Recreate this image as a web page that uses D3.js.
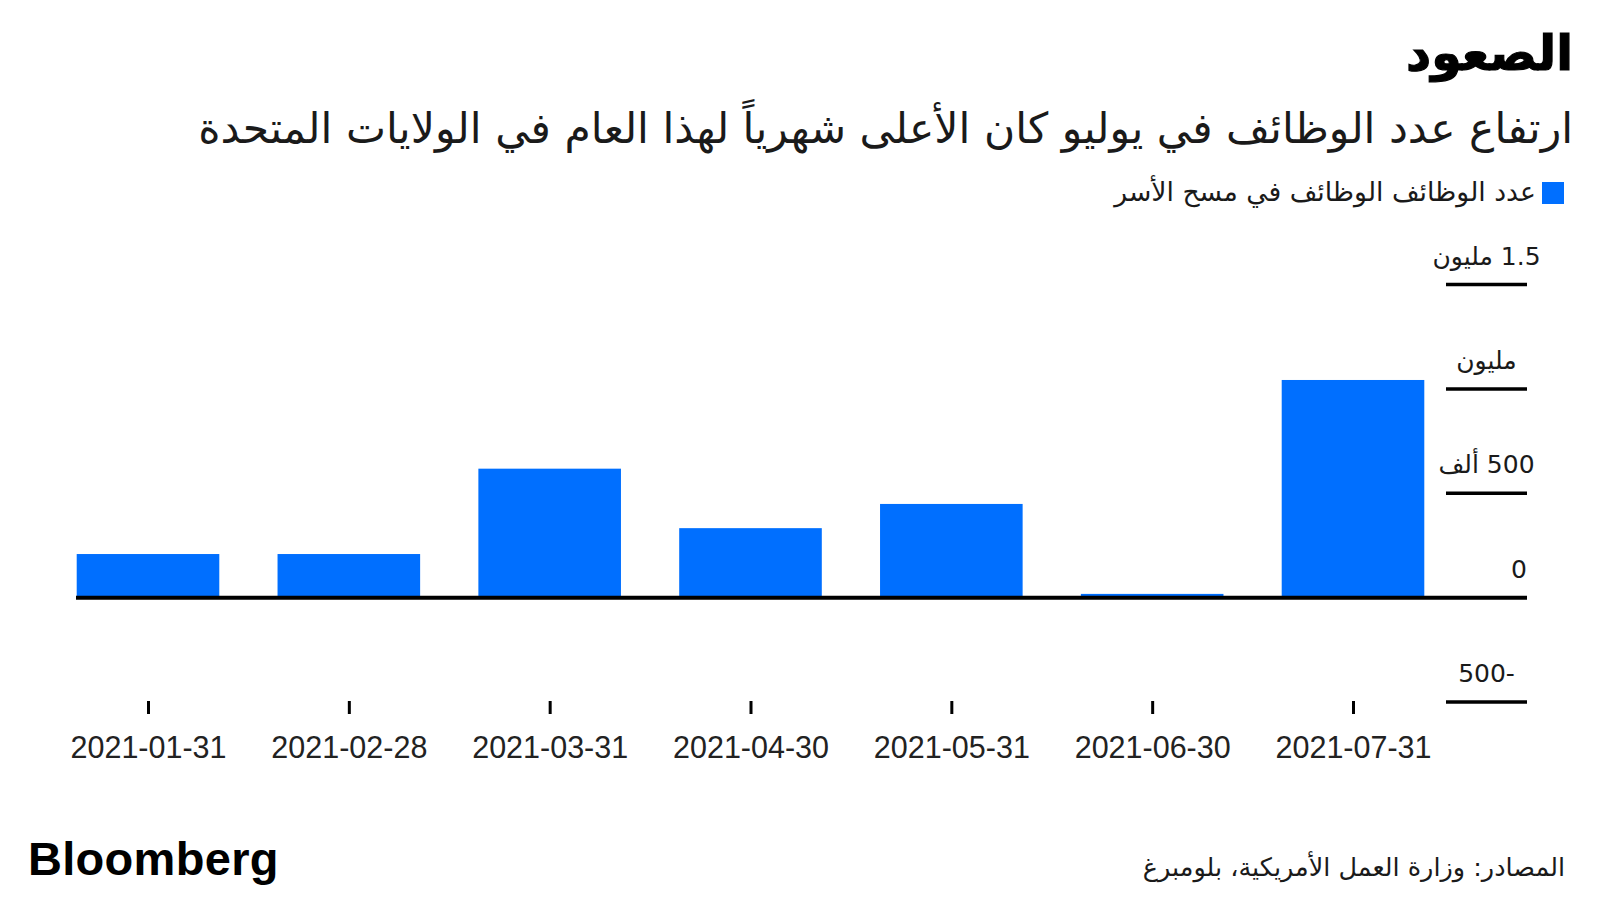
<!DOCTYPE html>
<html>
<head>
<meta charset="utf-8">
<script src="https://cdn.jsdelivr.net/npm/d3@7"></script>
<style>
  html, body { margin: 0; padding: 0; background: #fff; }
  svg { display: block; }
</style>
</head>
<body>
<svg id="chart" width="1600" height="900"></svg>
<script>
// ---- data ----
const categories = ["2021-01-31", "2021-02-28", "2021-03-31", "2021-04-30", "2021-05-31", "2021-06-30", "2021-07-31"];
const jobsValues = [209000, 209000, 618000, 333000, 449000, 18000, 1043000];
const yTickValues = [-500000, 0, 500000, 1000000, 1500000];
const yTickLabels = ["-500", "0", "500 ألف", "مليون", "1.5 مليون"];
const titleText = "الصعود";
const subtitleText = "ارتفاع عدد الوظائف في يوليو كان الأعلى شهرياً لهذا العام في الولايات المتحدة";
const legendText = "عدد الوظائف الوظائف في مسح الأسر";
const sourceText = "المصادر: وزارة العمل الأمريكية، بلومبرغ";

const BLUE = "#006fff";
const AR_FONT = "'DejaVu Sans', 'Noto Sans', sans-serif";
const svg = d3.select("#chart");

// ---- scales ----
const x = d3.scalePoint().domain(categories).range([148, 1353]);
const barW = x.step() * 0.71;
const y = d3.scaleLinear().domain([-500000, 1500000]).range([702, 284.6]);

// ---- header ----
svg.append("text")
  .attr("x", 1573).attr("y", 70)
  .attr("direction", "rtl").attr("text-anchor", "start")
  .style("font-family", AR_FONT).style("font-weight", "bold").style("font-size", "49px")
  .attr("fill", "#000").attr("stroke", "#000").attr("stroke-width", 1.2)
  .text(titleText);

svg.append("text")
  .attr("x", 1573).attr("y", 143)
  .attr("direction", "rtl").attr("text-anchor", "start")
  .style("font-family", AR_FONT).style("font-size", "42.5px")
  .attr("fill", "#1a1a1a").text(subtitleText);

// legend
svg.append("rect").attr("x", 1542).attr("y", 182).attr("width", 22).attr("height", 22).attr("fill", BLUE);
svg.append("text")
  .attr("x", 1536).attr("y", 201)
  .attr("direction", "rtl").attr("text-anchor", "start")
  .style("font-family", AR_FONT).style("font-size", "26.7px")
  .attr("fill", "#1a1a1a").text(legendText);

// ---- y gridlines (right side) ----
const gx0 = 1446, gx1 = 1527;
const gy = svg.append("g");
yTickValues.forEach((v, i) => {
  if (v !== 0) {
    gy.append("line").attr("x1", gx0).attr("x2", gx1)
      .attr("y1", y(v)).attr("y2", y(v))
      .attr("stroke", "#000").attr("stroke-width", 3.5);
  }
  gy.append("text")
    .attr("x", v === 0 ? gx1 : (gx0 + gx1) / 2)
    .attr("y", y(v) - 20)
    .attr("direction", "rtl")
    .attr("text-anchor", v === 0 ? "start" : "middle")
    .style("font-family", AR_FONT).style("font-size", "25px")
    .attr("fill", "#1a1a1a").text(yTickLabels[i]);
});

// ---- bars ----
svg.append("g").selectAll("rect").data(categories).join("rect")
  .attr("x", d => x(d) - barW / 2)
  .attr("width", barW)
  .attr("y", (d, i) => Math.min(y(jobsValues[i]), y(0)))
  .attr("height", (d, i) => Math.abs(y(0) - y(jobsValues[i])))
  .attr("fill", BLUE);

// zero line
svg.append("line").attr("x1", 76).attr("x2", gx1)
  .attr("y1", y(0)).attr("y2", y(0))
  .attr("stroke", "#000").attr("stroke-width", 4);

// ---- x axis ----
const xAxis = d3.axisBottom(x).tickSize(13).tickPadding(22).tickSizeOuter(0);
const gxAxis = svg.append("g").attr("transform", "translate(0,701)").call(xAxis);
gxAxis.select(".domain").remove();
gxAxis.selectAll(".tick line").attr("stroke", "#000").attr("stroke-width", 3);
gxAxis.selectAll(".tick text")
  .style("font-family", "'Liberation Sans', Arial, sans-serif")
  .style("font-size", "30.5px").attr("fill", "#222");

// ---- footer ----
svg.append("text")
  .attr("x", 28).attr("y", 875)
  .style("font-family", "'Liberation Sans', Arial, sans-serif").style("font-weight", "bold")
  .style("font-size", "47px").style("letter-spacing", "0.3px")
  .attr("fill", "#000").text("Bloomberg");

svg.append("text")
  .attr("x", 1565).attr("y", 876)
  .attr("direction", "rtl").attr("text-anchor", "start")
  .style("font-family", AR_FONT).style("font-size", "25.5px")
  .attr("fill", "#1a1a1a").text(sourceText);
</script>
</body>
</html>
